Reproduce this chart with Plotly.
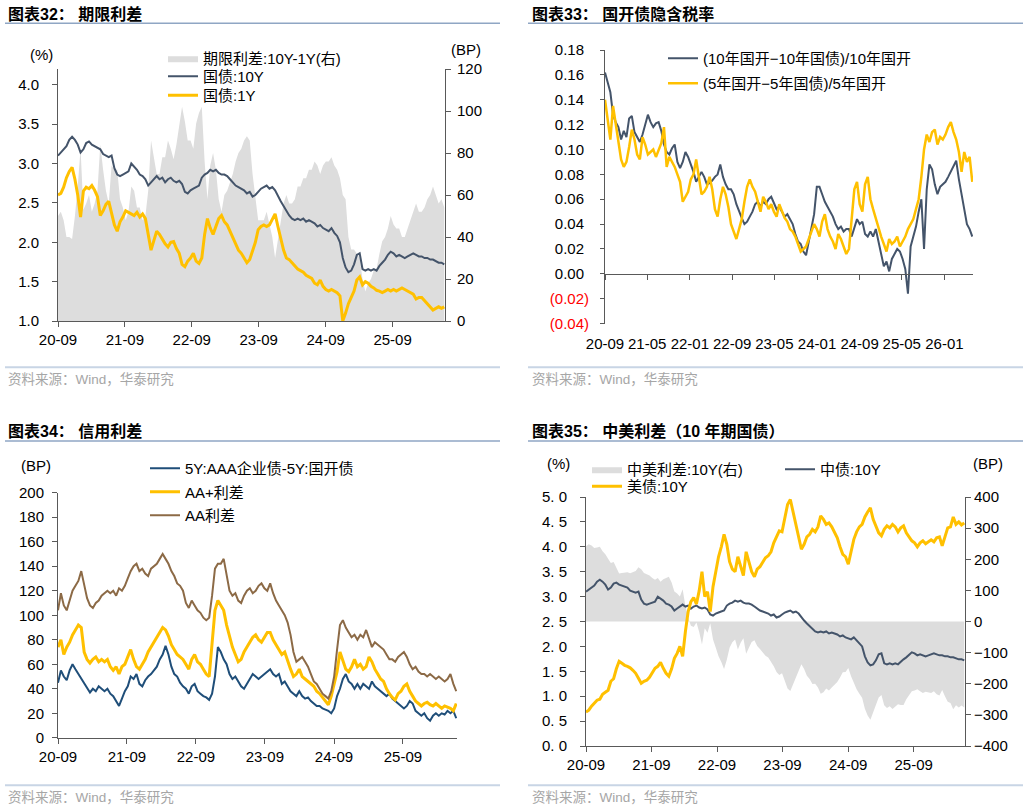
import pandas as pd
import plotly.graph_objects as go

W, H = 1029, 809
FONT = "Liberation Sans, Noto Sans CJK SC, sans-serif"
AXC = "#595959"
DARK = "#44546A"
GOLD = "#FFC000"
GRAY = "#DDDDDD"
NAVY = "#1F4E79"
BROWN = "#8C6A46"

# ---------------- data (semi-monthly readings, 2020-09 .. 2026-06) ----------------
dates = pd.date_range("2020-09-01", "2026-06-10", periods=138)
x_end = "2026-06-14"

cn10y = [3.10, 3.14, 3.18, 3.22, 3.30, 3.34, 3.30, 3.24, 3.14, 3.18,
         3.26, 3.28, 3.24, 3.22, 3.20, 3.18, 3.12, 3.10, 3.08, 3.10,
         2.94, 2.86, 2.84, 2.86, 2.88, 2.90, 3.00, 2.96, 2.92, 2.86,
         2.84, 2.80, 2.72, 2.76, 2.80, 2.84, 2.80, 2.82, 2.76, 2.80,
         2.82, 2.78, 2.76, 2.78, 2.74, 2.64, 2.62, 2.66, 2.68, 2.70,
         2.72, 2.82, 2.86, 2.88, 2.92, 2.90, 2.92, 2.88, 2.86, 2.86,
         2.84, 2.80, 2.76, 2.72, 2.70, 2.68, 2.66, 2.62, 2.64, 2.58,
         2.60, 2.64, 2.68, 2.70, 2.72, 2.68, 2.70, 2.66, 2.58, 2.52,
         2.46, 2.40, 2.34, 2.30, 2.28, 2.30, 2.28, 2.30, 2.26, 2.28,
         2.26, 2.24, 2.20, 2.22, 2.18, 2.16, 2.14, 2.18, 2.12, 2.08,
         2.00, 1.80, 1.68, 1.62, 1.64, 1.72, 1.84, 1.86, 1.66, 1.64,
         1.66, 1.64, 1.66, 1.64, 1.70, 1.74, 1.78, 1.84, 1.88, 1.86,
         1.82, 1.84, 1.82, 1.80, 1.82, 1.84, 1.86, 1.84, 1.82, 1.82,
         1.80, 1.80, 1.78, 1.78, 1.76, 1.74, 1.74, 1.72]

cn1y = [2.60, 2.62, 2.70, 2.82, 2.90, 2.95, 2.80, 2.60, 2.32, 2.65,
        2.70, 2.68, 2.72, 2.66, 2.58, 2.34, 2.40, 2.48, 2.52, 2.36,
        2.22, 2.14, 2.26, 2.32, 2.40, 2.38, 2.36, 2.34, 2.38, 2.32,
        2.36, 2.30, 2.10, 1.90, 2.02, 2.14, 2.10, 2.04, 1.98, 1.94,
        2.00, 2.01, 1.92, 1.86, 1.72, 1.69, 1.76, 1.80, 1.86, 1.76,
        1.73, 1.80, 2.10, 2.30, 2.18, 2.10, 2.20, 2.30, 2.34, 2.26,
        2.22, 2.14, 2.06, 1.96, 1.90, 1.86, 1.80, 1.74, 1.78, 1.88,
        2.00, 2.16, 2.20, 2.22, 2.20, 2.22, 2.30, 2.36, 2.20, 2.06,
        1.90, 1.80, 1.78, 1.74, 1.70, 1.66, 1.64, 1.62, 1.58, 1.56,
        1.54, 1.48, 1.46, 1.52, 1.44, 1.40, 1.38, 1.40, 1.38, 1.36,
        1.32, 1.00, 1.10, 1.22, 1.30, 1.38, 1.52, 1.56, 1.46, 1.50,
        1.48, 1.44, 1.42, 1.39, 1.38, 1.36, 1.38, 1.40, 1.38, 1.40,
        1.38, 1.40, 1.42, 1.40, 1.38, 1.36, 1.34, 1.28, 1.30, 1.30,
        1.26, 1.22, 1.18, 1.14, 1.16, 1.18, 1.16, 1.18]

term_spread_bp = [50, 52, 48, 40, 40, 39, 50, 64, 82, 53,
                  56, 60, 52, 56, 62, 84, 72, 62, 56, 74,
                  72, 72, 58, 54, 48, 52, 64, 62, 54, 54,
                  48, 50, 62, 86, 78, 70, 70, 78, 78, 86,
                  82, 77, 84, 92, 102, 95, 86, 86, 82, 94,
                  99, 102, 76, 58, 74, 80, 72, 58, 52, 60,
                  62, 66, 70, 76, 80, 82, 86, 88, 86, 70,
                  60, 48, 48, 48, 52, 46, 40, 30, 38, 46,
                  56, 60, 56, 56, 58, 64, 64, 68, 68, 72,
                  72, 76, 74, 70, 74, 76, 76, 78, 74, 72,
                  68, 60, 58, 40, 34, 34, 32, 30, 20, 14,
                  18, 20, 24, 25, 32, 38, 40, 44, 50, 46,
                  44, 44, 40, 40, 44, 48, 52, 56, 52, 52,
                  54, 58, 60, 64, 60, 56, 58, 54]

tax_ratio_10y = [0.162, 0.155, 0.146, 0.128, 0.122, 0.118, 0.108, 0.115, 0.110, 0.125,
                 0.127, 0.114, 0.110, 0.106, 0.112, 0.120, 0.128, 0.122, 0.118, 0.121,
                 0.122, 0.115, 0.104, 0.098, 0.096, 0.101, 0.104, 0.090, 0.085, 0.090,
                 0.098, 0.094, 0.088, 0.082, 0.074, 0.078, 0.082, 0.078, 0.072, 0.073,
                 0.075, 0.078, 0.080, 0.088, 0.078, 0.072, 0.068, 0.068, 0.064, 0.056,
                 0.050, 0.045, 0.040, 0.042, 0.046, 0.050, 0.056, 0.058, 0.054, 0.058,
                 0.056, 0.060, 0.062, 0.057, 0.052, 0.054, 0.050, 0.046, 0.048, 0.044,
                 0.040, 0.032, 0.026, 0.024, 0.018, 0.015, 0.026, 0.034, 0.048, 0.070,
                 0.070, 0.064, 0.058, 0.054, 0.050, 0.046, 0.040, 0.036, 0.038, 0.034,
                 0.036, 0.036, 0.030, 0.038, 0.044, 0.040, 0.042, 0.032, 0.030, 0.034,
                 0.030, 0.036, 0.026, 0.016, 0.006, 0.010, 0.002, 0.012, 0.016, 0.020,
                 0.018, 0.012, 0.004, -0.016, 0.022, 0.030, 0.038, 0.050, 0.060, 0.020,
                 0.068, 0.088, 0.084, 0.072, 0.064, 0.070, 0.072, 0.074, 0.078, 0.082,
                 0.086, 0.091, 0.076, 0.064, 0.050, 0.040, 0.036, 0.030]

tax_ratio_5y = [0.140, 0.122, 0.108, 0.135, 0.120, 0.108, 0.092, 0.086, 0.090, 0.102,
                0.116, 0.108, 0.096, 0.092, 0.110, 0.104, 0.096, 0.098, 0.100, 0.094,
                0.100, 0.105, 0.118, 0.086, 0.094, 0.090, 0.086, 0.080, 0.074, 0.058,
                0.062, 0.066, 0.076, 0.080, 0.092, 0.078, 0.064, 0.066, 0.070, 0.078,
                0.068, 0.052, 0.046, 0.060, 0.070, 0.064, 0.054, 0.040, 0.034, 0.028,
                0.036, 0.044, 0.058, 0.070, 0.076, 0.070, 0.066, 0.058, 0.050, 0.062,
                0.058, 0.052, 0.056, 0.050, 0.046, 0.056, 0.050, 0.045, 0.042, 0.036,
                0.034, 0.030, 0.024, 0.018, 0.020, 0.022, 0.028, 0.034, 0.040, 0.036,
                0.030, 0.042, 0.048, 0.036, 0.030, 0.026, 0.020, 0.032, 0.028, 0.022,
                0.016, 0.020, 0.044, 0.068, 0.074, 0.056, 0.050, 0.072, 0.078, 0.060,
                0.052, 0.044, 0.036, 0.030, 0.024, 0.018, 0.028, 0.024, 0.026, 0.030,
                0.022, 0.026, 0.030, 0.036, 0.040, 0.044, 0.052, 0.060, 0.078, 0.100,
                0.112, 0.106, 0.114, 0.116, 0.104, 0.110, 0.108, 0.112, 0.118, 0.122,
                0.114, 0.108, 0.098, 0.082, 0.098, 0.090, 0.094, 0.074]

credit_aaa = [45, 55, 50, 47, 55, 60, 56, 52, 48, 44,
              40, 37, 40, 38, 42, 40, 38, 40, 36, 34,
              30, 26, 32, 38, 42, 50, 48, 52, 44, 42,
              47, 50, 52, 55, 58, 64, 68, 75, 68, 58,
              52, 50, 45, 42, 40, 36, 42, 44, 38, 36,
              34, 33, 31, 36, 50, 74, 70, 64, 60, 52,
              48, 50, 46, 42, 40, 44, 48, 52, 50, 48,
              50, 52, 54, 56, 52, 50, 52, 44, 46, 42,
              38, 36, 34, 38, 34, 32, 33, 30, 28, 26,
              26, 24, 23, 22, 20, 24, 34, 40, 48, 52,
              46, 44, 40, 44, 40, 44, 42, 40, 46, 42,
              40, 38, 36, 34, 36, 32, 30, 28, 26, 24,
              26, 30, 28, 22, 20, 18, 20, 16, 14, 18,
              20, 18, 20, 19, 22, 20, 22, 16]

credit_aa_plus = [74, 80, 68, 74, 78, 84, 88, 92, 90, 70,
                  64, 61, 64, 66, 62, 64, 62, 64, 58, 55,
                  58, 52, 58, 60, 66, 72, 64, 58, 56, 60,
                  64, 70, 74, 78, 82, 86, 90, 88, 83, 76,
                  72, 68, 66, 64, 60, 56, 64, 68, 62, 60,
                  56, 52, 50, 76, 104, 112, 108, 104, 92, 82,
                  74, 68, 62, 64, 70, 74, 78, 82, 84, 80,
                  78, 82, 86, 86, 80, 76, 72, 68, 70, 62,
                  56, 50, 52, 56, 50, 48, 46, 44, 42, 38,
                  36, 33, 30, 27, 34, 44, 54, 70, 62, 56,
                  54, 58, 64, 58, 60, 56, 58, 66, 62, 56,
                  52, 48, 46, 40, 36, 33, 31, 36, 38, 42,
                  44, 38, 34, 30, 28, 26, 28, 29, 27, 26,
                  28, 26, 24, 26, 25, 24, 22, 28]

credit_aa = [104, 118, 108, 104, 112, 120, 124, 128, 136, 126,
             114, 108, 106, 110, 112, 116, 118, 120, 118, 120,
             116, 122, 120, 124, 130, 136, 140, 142, 136, 138,
             134, 132, 138, 140, 142, 146, 150, 146, 142, 136,
             132, 126, 124, 120, 110, 106, 112, 108, 104, 102,
             98, 96, 98, 116, 138, 142, 142, 146, 134, 120,
             116, 118, 112, 110, 116, 120, 122, 118, 120, 124,
             126, 122, 120, 126, 118, 112, 108, 104, 100, 94,
             84, 70, 62, 64, 66, 62, 58, 52, 46, 44,
             40, 36, 34, 32, 38, 50, 72, 92, 96, 90,
             86, 82, 84, 80, 84, 82, 88, 80, 74, 78,
             76, 74, 72, 68, 64, 64, 62, 66, 68, 70,
             66, 60, 56, 58, 54, 52, 52, 50, 52, 50,
             48, 50, 48, 46, 48, 52, 44, 38]

us10y = [0.68, 0.72, 0.80, 0.86, 0.92, 0.94, 1.04, 1.08, 1.12, 1.30,
         1.35, 1.55, 1.70, 1.66, 1.62, 1.60, 1.57, 1.52, 1.46, 1.36,
         1.26, 1.30, 1.32, 1.38, 1.48, 1.56, 1.60, 1.68, 1.56, 1.46,
         1.40, 1.55, 1.76, 1.86, 2.00, 1.80, 2.30, 2.70, 2.90, 2.98,
         2.85, 3.12, 3.50, 3.00, 3.10, 2.70, 3.20, 3.50, 3.80, 4.00,
         4.25, 4.05, 3.70, 3.55, 3.50, 3.80, 3.60, 3.42, 3.90, 3.70,
         3.50, 3.40, 3.55, 3.60, 3.70, 3.78, 3.82, 3.90, 4.08, 4.20,
         4.32, 4.30, 4.60, 4.85, 4.95, 4.70, 4.50, 4.25, 3.95, 4.05,
         4.20, 4.25, 4.35, 4.30, 4.40, 4.62, 4.55, 4.45, 4.48, 4.40,
         4.30, 4.18, 4.00, 3.85, 3.80, 3.65, 3.90, 4.15, 4.30, 4.40,
         4.45, 4.60, 4.70, 4.78, 4.55, 4.40, 4.28, 4.22, 4.35, 4.42,
         4.38, 4.45, 4.40, 4.30, 4.38, 4.42, 4.28, 4.20, 4.12, 4.08,
         4.00, 4.08, 4.12, 4.06, 4.10, 4.14, 4.10, 4.18, 4.20, 4.02,
         4.20, 4.38, 4.40, 4.60, 4.45, 4.50, 4.44, 4.48]

cn_us_spread_bp = [242, 248, 244, 236, 238, 240, 226, 216, 202, 188,
                   191, 173, 154, 156, 158, 158, 155, 158, 162, 174,
                   168, 156, 152, 148, 140, 134, 140, 128, 136, 140,
                   144, 125, 96, 90, 80, 104, 50, 12, -14, -18,
                   -3, -34, -74, -22, -36, -6, -58, -84, -112, -130,
                   -153, -123, -84, -67, -58, -90, -68, -54, -104, -84,
                   -66, -60, -79, -88, -100, -110, -116, -128, -144, -162,
                   -172, -166, -192, -215, -223, -202, -180, -159, -137, -153,
                   -174, -185, -201, -200, -212, -232, -227, -215, -222, -212,
                   -204, -194, -180, -163, -162, -149, -176, -197, -218, -232,
                   -245, -280, -302, -316, -291, -268, -244, -236, -269, -278,
                   -272, -281, -274, -266, -268, -268, -250, -236, -224, -222,
                   -218, -224, -230, -226, -228, -230, -224, -234, -238, -220,
                   -240, -258, -262, -282, -269, -276, -270, -276]

for _arr in (cn10y, cn1y, term_spread_bp, tax_ratio_10y, tax_ratio_5y, credit_aaa,
             credit_aa_plus, credit_aa, us10y, cn_us_spread_bp):
    assert len(_arr) == len(dates), len(_arr)

year_ticks = ["2020-09-01", "2021-09-01", "2022-09-01", "2023-09-01", "2024-09-01", "2025-09-01"]
year_labels = ["20-09", "21-09", "22-09", "23-09", "24-09", "25-09"]
m8_ticks = ["2020-09-01", "2021-05-01", "2022-01-01", "2022-09-01", "2023-05-01",
            "2024-01-01", "2024-09-01", "2025-05-01", "2026-01-01"]
m8_labels = ["20-09", "21-05", "22-01", "22-09", "23-05", "24-01", "24-09", "25-05", "26-01"]

pct_ticks_1 = [1.0, 1.5, 2.0, 2.5, 3.0, 3.5, 4.0]
ratio_ticks = [-0.04, -0.02, 0.0, 0.02, 0.04, 0.06, 0.08, 0.10, 0.12, 0.14, 0.16, 0.18]
pct_ticks_4 = [0.0, 0.5, 1.0, 1.5, 2.0, 2.5, 3.0, 3.5, 4.0, 4.5, 5.0]


def fx(px):
    return px / W


def fy(py):
    return 1 - py / H


def ratio_label(v):
    if v < 0:
        return '<span style="color:#FF0000">(%.2f)</span>' % abs(v)
    return "%.2f\u2004" % v


TF = dict(family=FONT, size=15, color="#000000")


def axis(**kw):
    d = dict(showline=True, linecolor=AXC, linewidth=1, ticks="outside", ticklen=5,
             tickcolor=AXC, tickwidth=1, showgrid=False, zeroline=False, tickfont=TF,
             fixedrange=True, automargin=False)
    d.update(kw)
    return d


fig = go.Figure()

# ---- chart 32 ----
fig.add_trace(go.Scatter(x=dates, y=term_spread_bp, mode="lines", fill="tozeroy",
                         fillcolor=GRAY, line=dict(width=0, color=GRAY),
                         name="期限利差:10Y-1Y(右)", xaxis="x", yaxis="y", legend="legend"))
fig.add_trace(go.Scatter(x=dates, y=cn10y, mode="lines", line=dict(color=DARK, width=2),
                         name="国债:10Y", xaxis="x", yaxis="y5", legend="legend2"))
fig.add_trace(go.Scatter(x=dates, y=cn1y, mode="lines", line=dict(color=GOLD, width=3),
                         name="国债:1Y", xaxis="x", yaxis="y5", legend="legend3"))

# ---- chart 33 ----
fig.add_trace(go.Scatter(x=dates, y=tax_ratio_10y, mode="lines", line=dict(color=DARK, width=2),
                         name="(10年国开\u221210年国债)/10年国开", xaxis="x2", yaxis="y2",
                         legend="legend4"))
fig.add_trace(go.Scatter(x=dates, y=tax_ratio_5y, mode="lines", line=dict(color=GOLD, width=2.5),
                         name="(5年国开\u22125年国债)/5年国开", xaxis="x6", yaxis="y2",
                         legend="legend5"))

# ---- chart 34 ----
fig.add_trace(go.Scatter(x=dates, y=credit_aaa, mode="lines", line=dict(color=NAVY, width=2),
                         name="5Y:AAA企业债-5Y:国开债", xaxis="x3", yaxis="y3", legend="legend6"))
fig.add_trace(go.Scatter(x=dates, y=credit_aa_plus, mode="lines", line=dict(color=GOLD, width=3),
                         name="AA+利差", xaxis="x3", yaxis="y3", legend="legend7"))
fig.add_trace(go.Scatter(x=dates, y=credit_aa, mode="lines", line=dict(color=BROWN, width=2),
                         name="AA利差", xaxis="x3", yaxis="y3", legend="legend8"))

# ---- chart 35 ----
fig.add_trace(go.Scatter(x=dates, y=cn_us_spread_bp, mode="lines", fill="tozeroy",
                         fillcolor=GRAY, line=dict(width=0, color=GRAY),
                         name="中美利差:10Y(右)", xaxis="x4", yaxis="y4", legend="legend9"))
fig.add_trace(go.Scatter(x=dates, y=cn10y, mode="lines", line=dict(color=DARK, width=2),
                         name="中债:10Y", xaxis="x4", yaxis="y6", legend="legend10"))
fig.add_trace(go.Scatter(x=dates, y=us10y, mode="lines", line=dict(color=GOLD, width=3),
                         name="美债:10Y", xaxis="x4", yaxis="y6", legend="legend11"))

rng = [dates[0], x_end]

layout = dict(
    template="none",
    showlegend=True,
    width=W, height=H, margin=dict(l=0, r=0, t=0, b=0, autoexpand=False),
    paper_bgcolor="white", plot_bgcolor="rgba(0,0,0,0)",
    font=dict(family=FONT, size=15, color="#000"),
    hovermode=False,
    # chart 32
    xaxis=axis(domain=[fx(58), fx(445)], anchor="y", type="date", range=rng,
               tickmode="array", tickvals=year_ticks, ticktext=year_labels),
    yaxis=axis(domain=[fy(321), fy(69)], anchor="x", side="right", range=[0, 120],
               tickmode="linear", tick0=0, dtick=20, ticklabelstandoff=3),
    yaxis5=axis(overlaying="y", anchor="x", side="left", range=[1.0, 4.2], ticklabelstandoff=10,
                tickmode="array", tickvals=pct_ticks_1, ticktext=["%.1f" % v for v in pct_ticks_1]),
    # chart 33
    xaxis2=axis(domain=[fx(605), fx(973)], anchor="y2", type="date", range=rng, showline=False,
                tickmode="array", tickvals=m8_ticks, ticktext=m8_labels,
                tickcolor="rgba(0,0,0,0)", ticklen=6),
    xaxis6=axis(overlaying="x2", anchor="free", position=fy(274), type="date", range=rng,
                tickmode="array", tickvals=m8_ticks, showticklabels=False),
    yaxis2=axis(domain=[fy(323.6), fy(50)], anchor="x2", range=[-0.04, 0.18], ticklen=4,
                ticklabelstandoff=8,
                tickmode="array", tickvals=ratio_ticks, ticktext=[ratio_label(v) for v in ratio_ticks]),
    # chart 34
    xaxis3=axis(domain=[fx(58), fx(457)], anchor="y3", type="date", range=rng,
                tickmode="array", tickvals=year_ticks, ticktext=year_labels),
    yaxis3=axis(domain=[fy(737.8), fy(492.7)], anchor="x3", range=[0, 200], ticklabelstandoff=5,
                tickmode="linear", tick0=0, dtick=20),
    # chart 35
    xaxis4=axis(domain=[fx(586), fx(965)], anchor="y4", type="date", range=rng,
                tickmode="array", tickvals=year_ticks, ticktext=year_labels),
    yaxis4=axis(domain=[fy(746), fy(497)], anchor="x4", side="right", range=[-400, 400],
                tickmode="linear", tick0=0, dtick=100),
    yaxis6=axis(overlaying="y4", anchor="x4", side="left", range=[0, 5], ticklabelstandoff=10,
                tickmode="array", tickvals=pct_ticks_4,
                ticktext=[("%.1f" % v).replace(".", ". ") for v in pct_ticks_4]),
)

LEG = dict(bgcolor="rgba(0,0,0,0)", borderwidth=0, font=dict(family=FONT, size=15, color="#000"),
           xanchor="left", yanchor="top", traceorder="normal", orientation="h", visible=True)
# (legend name, left px of symbol area, centre y px of the entry)
legend_pos = [("legend", 163, 59), ("legend2", 163, 77), ("legend3", 163, 96),
              ("legend4", 663, 59), ("legend5", 663, 84),
              ("legend6", 145, 469), ("legend7", 145, 492.5), ("legend8", 145, 516),
              ("legend9", 587, 470), ("legend10", 780, 470), ("legend11", 587, 487)]
for name, lx, ly in legend_pos:
    layout[name] = dict(LEG, x=fx(lx), y=fy(ly - 17))

ann = []


def text(x, y, s, size=15, color="#000", anchor="left"):
    ann.append(dict(x=fx(x), y=fy(y), xref="paper", yref="paper", text=s, showarrow=False,
                    xanchor=anchor, yanchor="middle", font=dict(family=FONT, size=size, color=color)))


text(6, 14, "<b>图表32：</b>\u00a0<b>期限利差</b>", size=16)
text(530, 14, "<b>图表33：</b>\u00a0<b>国开债隐含税率</b>", size=16)
text(6, 431, "<b>图表34：</b>\u00a0<b>信用利差</b>", size=16)
text(530, 431, "<b>图表35：</b>\u00a0<b>中美利差（10 年期国债）</b>", size=16)
for sx, sy in [(6, 379), (530, 379), (6, 797), (530, 797)]:
    text(sx, sy, "资料来源：Wind，华泰研究", size=13.5, color="#A6A6A6")
text(41, 54, "(%)", anchor="center")
text(466, 50, "(BP)", anchor="center")
text(36, 466, "(BP)", anchor="center")
text(558, 463, "(%)", anchor="center")
text(988, 463, "(BP)", anchor="center")
layout["annotations"] = ann

shapes = []
for x0, x1 in [(5, 500), (528, 1023)]:
    for yl in (23.3, 441):
        shapes.append(dict(type="line", xref="paper", yref="paper", x0=fx(x0), x1=fx(x1),
                           y0=fy(yl), y1=fy(yl), line=dict(color="#8FA6C4", width=1.5)))
    for yl in (367.3, 785.3):
        shapes.append(dict(type="line", xref="paper", yref="paper", x0=fx(x0), x1=fx(x1),
                           y0=fy(yl), y1=fy(yl), line=dict(color="#C8D5E5", width=2)))
layout["shapes"] = shapes

fig.update_layout(**layout)
fig.write_html("out.html", config=dict(displayModeBar=False))
